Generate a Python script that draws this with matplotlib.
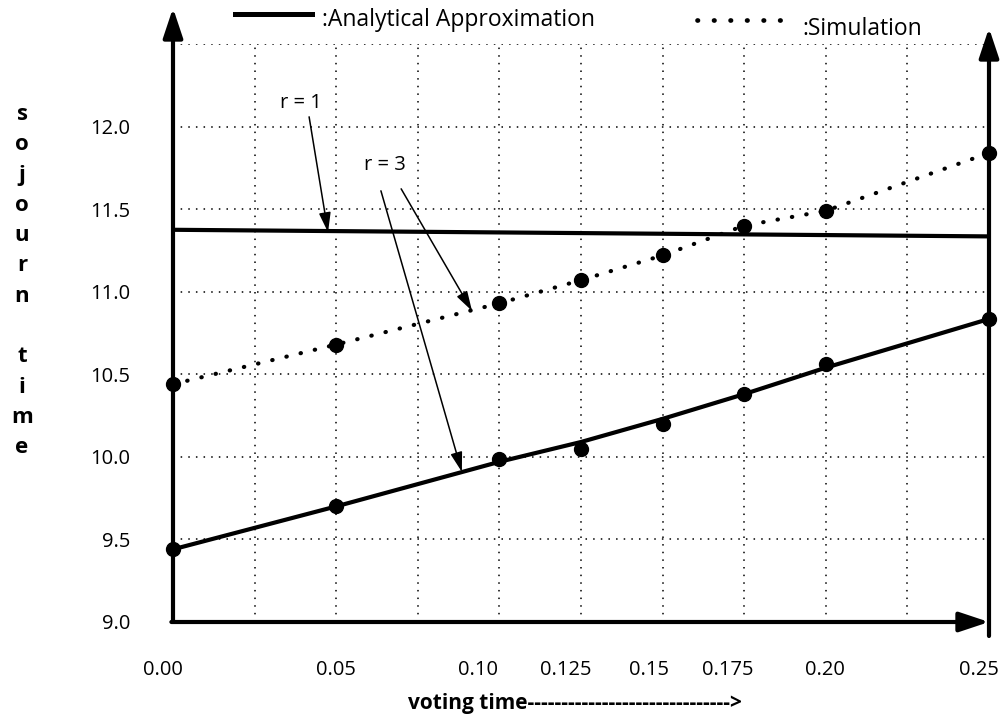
import numpy as np
import matplotlib.pyplot as plt
from matplotlib.lines import Line2D

W, H = 1005, 716

# x values (voting time) and the labels written under the axis
voting_time = [0.00, 0.05, 0.10, 0.125, 0.15, 0.175, 0.20, 0.25]
tick_labels = ["0.00", "0.05", "0.10", "0.125", "0.15", "0.175", "0.20", "0.25"]

# r = 1 : analytical approximation (almost flat)
r1_time = [0.00, 0.25]
r1_analytic = [11.375, 11.335]

# r = 3 : analytical curve, points on it, and simulation curve
r3_analytic = [9.44, 9.70, 9.97, 10.09, 10.23, 10.38, 10.54, 10.835]
r3_analytic_pts = [9.44, 9.70, 9.99, 10.05, 10.20, 10.38, 10.56, 10.835]
r3_simulation = [10.44, 10.68, 10.93, 11.07, 11.22, 11.40, 11.49, 11.84]

y_ticks = [9.0, 9.5, 10.0, 10.5, 11.0, 11.5, 12.0, 12.5]
y_labels = ["9.0", "9.5", "10.0", "10.5", "11.0", "11.5", "12.0", ""]

plt.rcParams['font.family'] = ['Open Sans', 'DejaVu Sans']

fig = plt.figure(figsize=(W / 100, H / 100), dpi=100)
ax = fig.add_axes([173 / W, 1 - 622 / H, (989 - 173) / W, (622 - 44) / H])
ax.set_xlim(0, 0.25)
ax.set_ylim(9.0, 12.5)

# grid every 0.025 in x, labels drawn separately (they sit a bit off the lines)
ax.set_xticks(np.arange(0, 0.2501, 0.025))
ax.set_xticklabels([])
ax.set_yticks(y_ticks)
ax.set_yticklabels(y_labels, fontsize=14.5)
ax.tick_params(length=0)
ax.tick_params(axis='y', pad=31)
ax.grid(True, color='black', lw=1.1, linestyle=(0, (1, 4)))
for s in ax.spines.values():
    s.set_visible(False)

label_shift = [-10, 0, -21, -15, -14, -16, -1, -10]  # pixels
for x, lab, dx in zip(voting_time, tick_labels, label_shift):
    ax.annotate(lab, xy=(x, 0), xycoords=('data', 'axes fraction'),
                xytext=(dx, -48), textcoords='offset pixels',
                ha='center', va='center', fontsize=14.5, annotation_clip=False)

# axes drawn as arrows
axis_arrow = dict(arrowstyle='-|>,head_length=0.9,head_width=0.3', lw=3,
                  color='black', mutation_scale=20, shrinkA=0, shrinkB=0)
ax.annotate('', xy=(0, 1 + 36 / 578), xytext=(0, 0), xycoords='axes fraction',
            arrowprops=axis_arrow, annotation_clip=False)
ax.annotate('', xy=(1, 1 + 16 / 578), xytext=(1, -14 / 578), xycoords='axes fraction',
            arrowprops=axis_arrow, annotation_clip=False)
ax.annotate('', xy=(1, 0), xytext=(-0.002, 0), xycoords='axes fraction',
            arrowprops=axis_arrow, annotation_clip=False)

# curves
ax.plot(r1_time, r1_analytic, color='black', lw=3, solid_capstyle='butt')
ax.plot(voting_time, r3_analytic, color='black', lw=3)
ax.plot(voting_time, r3_analytic_pts, 'o', color='black', ms=10, clip_on=False)
ax.plot(voting_time, r3_simulation, color='black', lw=3,
        linestyle=(0, (0.1, 3.4)), dash_capstyle='round')
ax.plot(voting_time, r3_simulation, 'o', color='black', ms=10, clip_on=False)

# r labels with pointer arrows
thin = dict(arrowstyle='-|>,head_length=0.6,head_width=0.18', lw=1.1,
            color='black', mutation_scale=20, shrinkA=0, shrinkB=0)
ax.text(0.0392, 12.143, "r = 1", fontsize=14.5, ha='center', va='center')
ax.annotate('', xy=(0.0475, 11.36), xytext=(0.0417, 12.059), arrowprops=thin)
ax.text(0.0650, 11.768, "r = 3", fontsize=14.5, ha='center', va='center')
ax.annotate('', xy=(0.0916, 10.884), xytext=(0.0699, 11.623), arrowprops=thin)
ax.annotate('', xy=(0.0885, 9.909), xytext=(0.0637, 11.611), arrowprops=thin)

# legend along the top edge
fig.add_artist(Line2D([235 / W, 312 / W], [1 - 14 / H] * 2, color='black', lw=3.6))
fig.text(322 / W, 1 - 20 / H, ":Analytical Approximation", fontsize=16.5,
         ha='left', va='center')
fig.add_artist(Line2D([697 / W, 782 / W], [1 - 20 / H] * 2, color='black', lw=3.4,
                      linestyle=(0, (0.1, 3.4)), dash_capstyle='round'))
fig.text(802 / W, 1 - 29 / H, ":Simulation", fontsize=16.5, ha='left', va='center')

# axis titles
fig.text(408 / W, 1 - 704 / H, "voting time" + "-" * 30 + ">", fontsize=15,
         fontweight='bold', ha='left', va='center')
fig.text(22 / W, 1 - 104 / H, "s\no\nj\no\nu\nr\nn\n\nt\ni\nm\ne", fontsize=16,
         fontweight='bold', ha='center', va='top', linespacing=1.58)

fig.savefig("out.png", dpi=100)
